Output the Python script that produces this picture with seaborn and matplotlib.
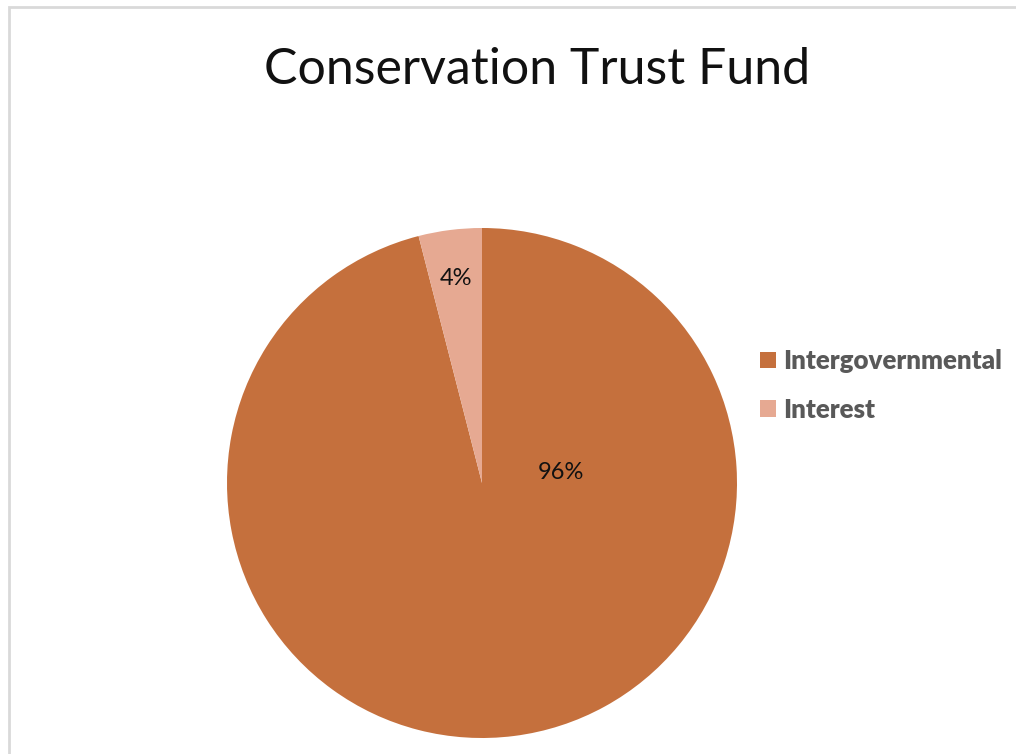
import matplotlib
matplotlib.use("Agg")
import matplotlib.pyplot as plt
from matplotlib.patches import Rectangle
import seaborn as sns

# Revenue sources for the fund
categories = ["Intergovernmental", "Interest"]
shares = [96, 4]
pct_labels = ["96%", "4%"]
colors = ["#C5703D", "#E6A992"]
title = "Conservation Trust Fund"

sns.set_theme(style="white")
plt.rcParams["font.family"] = ["Lato", "DejaVu Sans"]

W, H = 1016, 754
fig = plt.figure(figsize=(W / 100, H / 100), dpi=100)
fig.patch.set_facecolor("white")

# Square axes holding the pie
left, top, size = 227, 228, 510
ax = fig.add_axes([left / W, (H - top - size) / H, size / W, size / H])
wedges, _ = ax.pie(
    shares,
    colors=colors,
    startangle=90,
    counterclock=False,
    radius=1.0,
    wedgeprops=dict(linewidth=0),
)
ax.set_xlim(-1, 1)
ax.set_ylim(-1, 1)
ax.set_aspect("equal")
ax.axis("off")

# Percentage labels inside the slices
label_pos = [(0.31, 0.04), (-0.10, 0.80)]
for (x, y), txt in zip(label_pos, pct_labels):
    ax.text(x, y, txt, ha="center", va="center", fontsize=17, color="#111111")

fig.text(537 / W, 1 - 70 / H, title, ha="center", va="center",
         fontsize=36, color="#111111")

leg = fig.legend(
    wedges, categories,
    loc="upper left",
    bbox_to_anchor=(737 / W, 1 - 326 / H),
    frameon=False,
    handlelength=0.6, handleheight=0.6, handletextpad=0.3,
    labelspacing=0.95,
    prop=dict(size=18.6, weight="heavy"),
)
for t in leg.get_texts():
    t.set_color("#595959")

# Light chart border
fig.patches.append(Rectangle((8.5 / W, -0.05), 1.2, (H - 6.5) / H + 0.05,
                             transform=fig.transFigure, fill=False,
                             edgecolor="#d9d9d9", linewidth=2))

fig.savefig("out.png", dpi=100)
